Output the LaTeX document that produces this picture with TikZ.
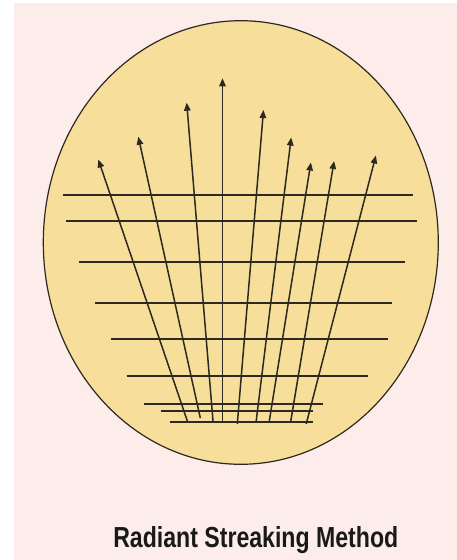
\documentclass[tikz,border=0pt]{standalone}
\usepackage{fontspec}
\setmainfont{Liberation Sans}
\usetikzlibrary{arrows.meta}
\definecolor{bgpink}{RGB}{252,236,234}
\definecolor{plate}{RGB}{247,222,155}
\definecolor{ink}{RGB}{43,41,32}
\tikzset{
  hline/.style={draw=ink, line width=1.9pt},
  streak/.style={draw=ink, line width=1.5pt, -{Triangle[length=8pt,width=6.5pt]}},
}
\begin{document}
\begin{tikzpicture}[x=1pt,y=-1pt]
\useasboundingbox (0,0) rectangle (457,560);
\fill[white] (0,0) rectangle (457,560);
\fill[bgpink] (14,3) rectangle (457,560);
\draw[ink, line width=1.2pt, fill=plate] (240.8,242.5) ellipse [x radius=197.5, y radius=221.8];
% horizontal streaks
\draw[hline] (62.7,195) -- (413.3,195);
\draw[hline] (66,221) -- (416.7,221);
\draw[hline] (79.3,262) -- (405,262);
\draw[hline] (95,303) -- (392.3,303);
\draw[hline] (111,339) -- (388.3,339);
\draw[hline] (126.7,376) -- (367.7,376);
\draw[hline] (144.3,404) -- (322.7,404);
\draw[hline] (161,411) -- (312.7,411);
\draw[hline] (170,422) -- (313.3,422);
% radiating streaks
\draw[streak] (187.5,421.5) -- (98.3,159.5);
\draw[streak] (200.3,418) -- (138.3,136.7);
\draw[streak] (213,421) -- (186.7,102.7);
\draw[streak] (222.5,421.5) -- (222.5,78.3);
\draw[streak] (237.3,424) -- (263.5,110);
\draw[streak] (256.2,421) -- (291.2,137.5);
\draw[streak] (269.3,421) -- (310.9,162.5);
\draw[streak] (290.7,421.5) -- (334.1,161);
\draw[streak] (306.2,424) -- (375.9,155.5);
\node[anchor=base, inner sep=0pt, text=black!90] (title) at (255.8,547)
  {\resizebox{285pt}{21pt}{\textbf{Radiant Streaking Method}}};
\end{tikzpicture}
\end{document}
